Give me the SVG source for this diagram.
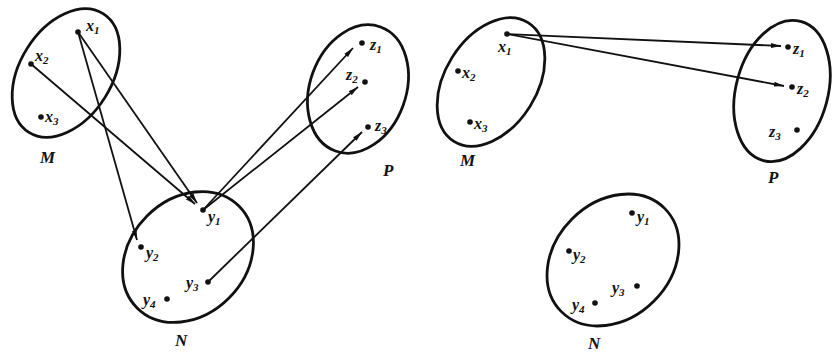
<svg xmlns="http://www.w3.org/2000/svg" width="832" height="353" viewBox="0 0 832 353">
<style>
.set{fill:none;stroke:#111;stroke-width:2.8}
.ln{stroke:#111;stroke-width:1.8;fill:none}
.dot{fill:#111}
text{font-family:"Liberation Serif",serif;font-style:italic;font-weight:bold;font-size:16px;fill:#111}
.sub{font-size:11px}
.lbl{font-size:17px}
</style>
<defs>
<marker id="ar" viewBox="0 0 10 6" refX="10" refY="3" markerWidth="10" markerHeight="6" markerUnits="userSpaceOnUse" orient="auto">
<path d="M0,0.5 L10,3 L0,5.5 z" fill="#111"/>
</marker>
</defs>
<rect width="832" height="353" fill="#fff"/>
<g id="connectors">
<line class="ln" x1="78" y1="32" x2="197" y2="203" marker-end="url(#ar)"/>
<line class="ln" x1="31" y1="64" x2="195" y2="204" marker-end="url(#ar)"/>
<line class="ln" x1="78" y1="32" x2="137" y2="240" marker-end="url(#ar)"/>
<line class="ln" x1="203" y1="210" x2="353" y2="48" marker-end="url(#ar)"/>
<line class="ln" x1="203" y1="210" x2="358" y2="87" marker-end="url(#ar)"/>
<line class="ln" x1="208" y1="282" x2="362" y2="132" marker-end="url(#ar)"/>
<line class="ln" x1="507" y1="34" x2="781" y2="46" marker-end="url(#ar)"/>
<line class="ln" x1="507" y1="34" x2="784" y2="86" marker-end="url(#ar)"/>
</g>
<g id="M1">
<ellipse class="set" cx="66" cy="73" rx="46" ry="70" transform="rotate(32 66 73)"/>
<circle class="dot" cx="78" cy="32" r="2.8"/><text x="86" y="31">x<tspan class="sub" dy="3">1</tspan></text>
<circle class="dot" cx="31" cy="64" r="2.8"/><text x="35" y="61">x<tspan class="sub" dy="3">2</tspan></text>
<circle class="dot" cx="41" cy="117" r="2.8"/><text x="45" y="122">x<tspan class="sub" dy="3">3</tspan></text>
<text class="lbl" x="40" y="163">M</text>
</g>
<g id="N1">
<ellipse class="set" cx="188" cy="257" rx="58" ry="72" transform="rotate(45 188 257)"/>
<circle class="dot" cx="203" cy="210" r="2.8"/><text x="208" y="222">y<tspan class="sub" dy="3">1</tspan></text>
<circle class="dot" cx="141" cy="247" r="2.8"/><text x="146" y="258">y<tspan class="sub" dy="3">2</tspan></text>
<circle class="dot" cx="208" cy="282" r="2.8"/><text x="186" y="288">y<tspan class="sub" dy="3">3</tspan></text>
<circle class="dot" cx="167" cy="299" r="2.8"/><text x="143" y="305">y<tspan class="sub" dy="3">4</tspan></text>
<text class="lbl" x="175" y="346">N</text>
</g>
<g id="P1">
<ellipse class="set" cx="358" cy="89" rx="48" ry="66" transform="rotate(20 358 89)"/>
<circle class="dot" cx="362" cy="43" r="2.8"/><text x="370" y="50">z<tspan class="sub" dy="3">1</tspan></text>
<circle class="dot" cx="365" cy="82" r="2.8"/><text x="346" y="80">z<tspan class="sub" dy="3">2</tspan></text>
<circle class="dot" cx="368" cy="127" r="2.8"/><text x="375" y="131">z<tspan class="sub" dy="3">3</tspan></text>
<text class="lbl" x="383" y="176">P</text>
</g>
<g id="M2">
<ellipse class="set" cx="491" cy="82" rx="46" ry="70" transform="rotate(32 491 82)"/>
<circle class="dot" cx="507" cy="34" r="2.8"/><text x="498" y="52">x<tspan class="sub" dy="3">1</tspan></text>
<circle class="dot" cx="458" cy="71" r="2.8"/><text x="462" y="78">x<tspan class="sub" dy="3">2</tspan></text>
<circle class="dot" cx="470" cy="122" r="2.8"/><text x="474" y="129">x<tspan class="sub" dy="3">3</tspan></text>
<text class="lbl" x="460" y="166">M</text>
</g>
<g id="P2">
<ellipse class="set" cx="782" cy="91" rx="46" ry="72" transform="rotate(15 782 91)"/>
<circle class="dot" cx="788" cy="47" r="2.8"/><text x="793" y="54">z<tspan class="sub" dy="3">1</tspan></text>
<circle class="dot" cx="792" cy="87" r="2.8"/><text x="797" y="94">z<tspan class="sub" dy="3">2</tspan></text>
<circle class="dot" cx="797" cy="130" r="2.8"/><text x="769" y="137">z<tspan class="sub" dy="3">3</tspan></text>
<text class="lbl" x="768" y="183">P</text>
</g>
<g id="N2">
<ellipse class="set" cx="613" cy="260" rx="58" ry="73" transform="rotate(45 613 260)"/>
<circle class="dot" cx="632" cy="213" r="2.8"/><text x="637" y="222">y<tspan class="sub" dy="3">1</tspan></text>
<circle class="dot" cx="569" cy="251" r="2.8"/><text x="573" y="260">y<tspan class="sub" dy="3">2</tspan></text>
<circle class="dot" cx="637" cy="286" r="2.8"/><text x="612" y="293">y<tspan class="sub" dy="3">3</tspan></text>
<circle class="dot" cx="595" cy="303" r="2.8"/><text x="572" y="310">y<tspan class="sub" dy="3">4</tspan></text>
<text class="lbl" x="588" y="349">N</text>
</g>
</svg>
